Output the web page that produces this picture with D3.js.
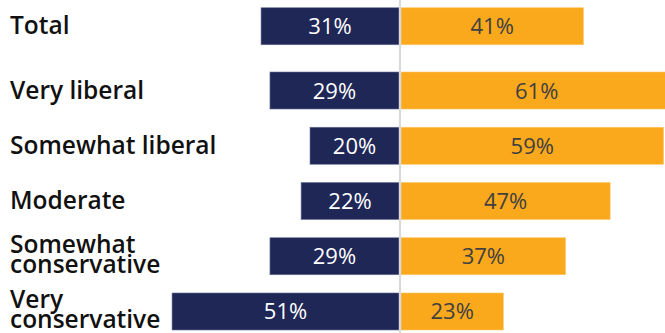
<!DOCTYPE html>
<html>
<head>
<meta charset="utf-8">
<script src="https://cdn.jsdelivr.net/npm/d3@7"></script>
<style>
	body { margin: 0; background: #fff; }
	svg { display: block; font-family: "Open Sans", sans-serif; }
</style>
</head>
<body>
<div id="chart"></div>
<script>
// data
const categories = ['Total', 'Very liberal', 'Somewhat liberal', 'Moderate', 'Somewhat conservative', 'Very conservative'];
const labelLines = [['Total'], ['Very liberal'], ['Somewhat liberal'], ['Moderate'], ['Somewhat', 'conservative'], ['Very', 'conservative']];
const leftValues = [31, 29, 20, 22, 29, 51];
const rightValues = [41, 61, 59, 47, 37, 23];

const width = 665, height = 333;
const center = 400;
const totalGap = 9; // Total row sits a little apart from the rest

const svg = d3.select('#chart').append('svg')
	.attr('width', width)
	.attr('height', height);

const x = d3.scaleLinear()
	.domain([0, 100])
	.range([0, 445]);

const y = d3.scaleBand()
	.domain(categories)
	.range([16.75, 330])
	.paddingInner(0.33)
	.paddingOuter(0);

const rowY = function (d) {
	return y(d) - (d === 'Total' ? totalGap : 0);
};

const rows = categories.map((c, i) => ({
	cat: c,
	lines: labelLines[i],
	left: leftValues[i],
	right: rightValues[i]
}));

// left (navy) bars
svg.selectAll('.bar-left').data(rows).enter()
	.append('rect')
	.attr('class', 'bar-left')
	.attr('x', d => center - 1 - x(d.left))
	.attr('y', d => rowY(d.cat))
	.attr('width', d => x(d.left))
	.attr('height', y.bandwidth())
	.attr('fill', '#1f2757')
	.attr('stroke', '#6d7396')
	.attr('stroke-width', 0.6);

// right (orange) bars
svg.selectAll('.bar-right').data(rows).enter()
	.append('rect')
	.attr('class', 'bar-right')
	.attr('x', center + 1)
	.attr('y', d => rowY(d.cat))
	.attr('width', d => x(d.right))
	.attr('height', y.bandwidth())
	.attr('fill', '#faa91d')
	.attr('stroke', '#fcc76a')
	.attr('stroke-width', 0.6);

// centre line
svg.append('line')
	.attr('x1', center).attr('x2', center)
	.attr('y1', 0).attr('y2', height)
	.attr('stroke', '#d9d9d9')
	.attr('stroke-width', 2.2);

// value labels
svg.selectAll('.val-left').data(rows).enter()
	.append('text')
	.attr('class', 'val-left')
	.attr('x', d => center - 1 - x(d.left) / 2)
	.attr('y', d => rowY(d.cat) + y.bandwidth() / 2 + 8)
	.attr('text-anchor', 'middle')
	.attr('font-size', 22)
	.attr('fill', '#fff')
	.text(d => d.left + '%');

svg.selectAll('.val-right').data(rows).enter()
	.append('text')
	.attr('class', 'val-right')
	.attr('x', d => center + 1 + x(d.right) / 2)
	.attr('y', d => rowY(d.cat) + y.bandwidth() / 2 + 8)
	.attr('text-anchor', 'middle')
	.attr('font-size', 22)
	.attr('fill', '#404040')
	.text(d => d.right + '%');

// category labels
const lineH = 20;
const cats = svg.selectAll('.cat').data(rows).enter()
	.append('text')
	.attr('class', 'cat')
	.attr('x', 10)
	.attr('font-size', 24.5)
	.attr('font-weight', 600)
	.attr('fill', '#111');

cats.each(function (d) {
	const two = d.lines.length > 1;
	const mid = rowY(d.cat) + y.bandwidth() / 2 + (two ? 7 : 8);
	const first = mid - (d.lines.length - 1) * lineH / 2;
	d3.select(this).selectAll('tspan').data(d.lines).enter()
		.append('tspan')
		.attr('x', 10)
		.attr('y', (l, i) => first + i * lineH)
		.text(l => l);
});
</script>
</body>
</html>
